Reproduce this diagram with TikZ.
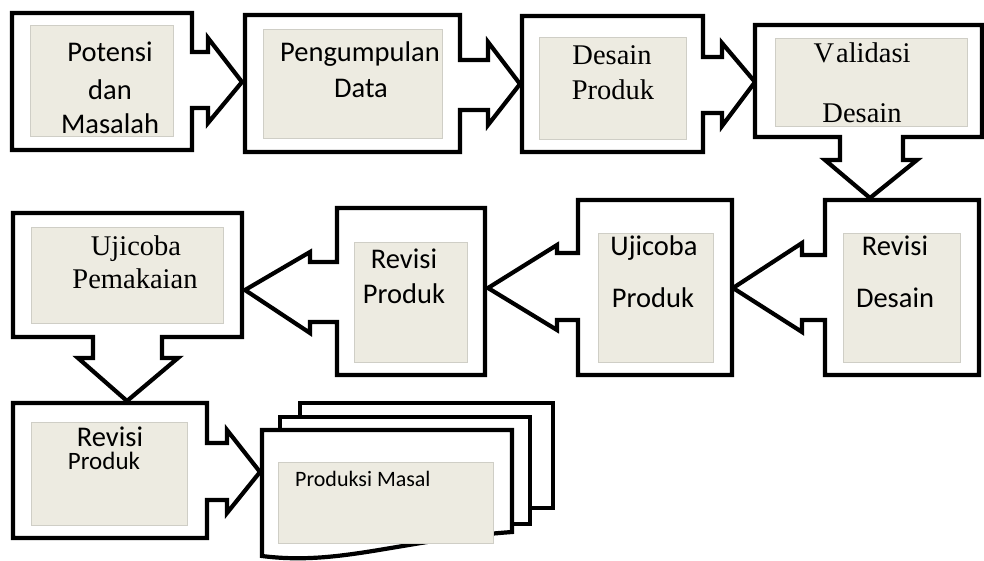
\documentclass[tikz,border=0pt]{standalone}
\usepackage{fontspec}
\setsansfont{Carlito}
\setmainfont{Liberation Serif}
\usetikzlibrary{fit}
\definecolor{panelfill}{HTML}{EDEBE1}
\definecolor{panelline}{HTML}{CFCEC6}
\begin{document}
\begin{tikzpicture}[x=1pt,y=-1pt,
  callout/.style={draw=black,line width=4.2pt,fill=white,line join=miter},
  panel/.style={draw=panelline,line width=0.8pt,fill=panelfill,inner sep=0pt},
  sanstxt/.style={font=\sffamily\fontsize{28.5}{34}\selectfont,inner sep=0pt,anchor=base},
  seriftxt/.style={font=\rmfamily\fontsize{28.5}{34}\selectfont,inner sep=0pt,anchor=base}]
\useasboundingbox[fill=white] (0,0) rectangle (984,561);

% ---- row 1 ----
\draw[callout] (12,13) -- (192,13) -- (192,52) -- (208,52) -- (208,38) -- (242,82) -- (208,123) -- (208,108) -- (192,108) -- (192,150) -- (12,150) -- cycle;
\node[panel,fit={(30,25) (173,136)}] (p1) {};
\node[sanstxt] (t1a) at (110,62) {Potensi};
\node[sanstxt] (t1b) at (110,100) {dan};
\node[sanstxt] (t1c) at (110,134) {Masalah};

\draw[callout] (245,15) -- (460,15) -- (460,60) -- (488,60) -- (488,42) -- (520,84) -- (488,125) -- (488,110) -- (460,110) -- (460,152) -- (245,152) -- cycle;
\node[panel,fit={(263,29) (442,138)}] (p2) {};
\node[sanstxt] (t2a) at (360,62) {Pengumpulan};
\node[sanstxt] (t2b) at (361,98) {Data};

\draw[callout] (522,16) -- (703,16) -- (703,57) -- (722,57) -- (722,43) -- (755,82) -- (722,126) -- (722,113) -- (703,113) -- (703,152) -- (522,152) -- cycle;
\node[panel,fit={(539,37) (686,139)}] (p3) {};
\node[seriftxt] (t3a) at (612,65) {Desain};
\node[seriftxt] (t3b) at (613,100) {Produk};

\draw[callout] (755,25) -- (982,25) -- (982,137) -- (903,137) -- (903,160) -- (917,160) -- (870,198) -- (825,160) -- (840,160) -- (840,137) -- (755,137) -- cycle;
\node[panel,fit={(775,38) (967,126)}] (p4) {};
\node[seriftxt] (t4a) at (862,63) {V\kern2pt alidasi};
\node[seriftxt] (t4b) at (862,123) {Desain};

% ---- row 2 ----
\draw[callout] (825,200) -- (979,200) -- (979,375) -- (825,375) -- (825,320) -- (802,320) -- (802,332) -- (733,288) -- (802,243) -- (802,255) -- (825,255) -- cycle;
\node[panel,fit={(843,233) (960,362)}] (p5) {};
\node[sanstxt] (t5a) at (895,255) {Revisi};
\node[sanstxt] (t5b) at (895,307) {Desain};

\draw[callout] (578,200) -- (732,200) -- (732,375) -- (578,375) -- (578,320) -- (557,320) -- (557,330) -- (488,288) -- (557,245) -- (557,253) -- (578,253) -- cycle;
\node[panel,fit={(598,233) (713,362)}] (p6) {};
\node[sanstxt] (t6a) at (654,255) {Ujicoba};
\node[sanstxt] (t6b) at (653,307) {Produk};

\draw[callout] (337,208) -- (485,208) -- (485,375) -- (337,375) -- (337,322) -- (310,322) -- (310,333) -- (245,290) -- (310,252) -- (310,262) -- (337,262) -- cycle;
\node[panel,fit={(354,242) (467,362)}] (p7) {};
\node[sanstxt] (t7a) at (404,268) {Revisi};
\node[sanstxt] (t7b) at (404,303) {Produk};

\draw[callout] (13,213) -- (242,213) -- (242,337) -- (162,337) -- (162,358) -- (178,358) -- (127,401) -- (78,358) -- (93,358) -- (93,337) -- (13,337) -- cycle;
\node[panel,fit={(31,227) (223,323)}] (p8) {};
\node[seriftxt] (t8a) at (136,255) {Ujicoba};
\node[seriftxt] (t8b) at (135,288) {Pemakaian};

% ---- row 3 ----
\draw[callout] (13,403) -- (207,403) -- (207,443) -- (227,443) -- (227,430) -- (260,472) -- (227,513) -- (227,500) -- (207,500) -- (207,538) -- (13,538) -- cycle;
\node[panel,fit={(31,422) (187,525)}] (p9) {};
\node[sanstxt] (t9a) at (110,446) {Revisi};
\node[sanstxt,font=\sffamily\fontsize{25}{30}\selectfont] (t9b) at (104,469) {Produk};

% multi-document
\draw[callout] (300,403) -- (553,403) -- (553,508) -- (300,508) -- cycle;
\draw[callout] (280,417) -- (530,417) -- (530,524) -- (280,524) -- cycle;
\draw[callout] (262,430) -- (512,430) -- (512,532) .. controls (400,540) and (340,566) .. (262,556) -- cycle;
\node[panel,fit={(278,462) (493,543)}] (p10) {};
\node[font=\sffamily\fontsize{22}{26}\selectfont,inner sep=0pt,anchor=base west] (t10) at (295,486) {Produksi Masal};
\end{tikzpicture}
\end{document}
